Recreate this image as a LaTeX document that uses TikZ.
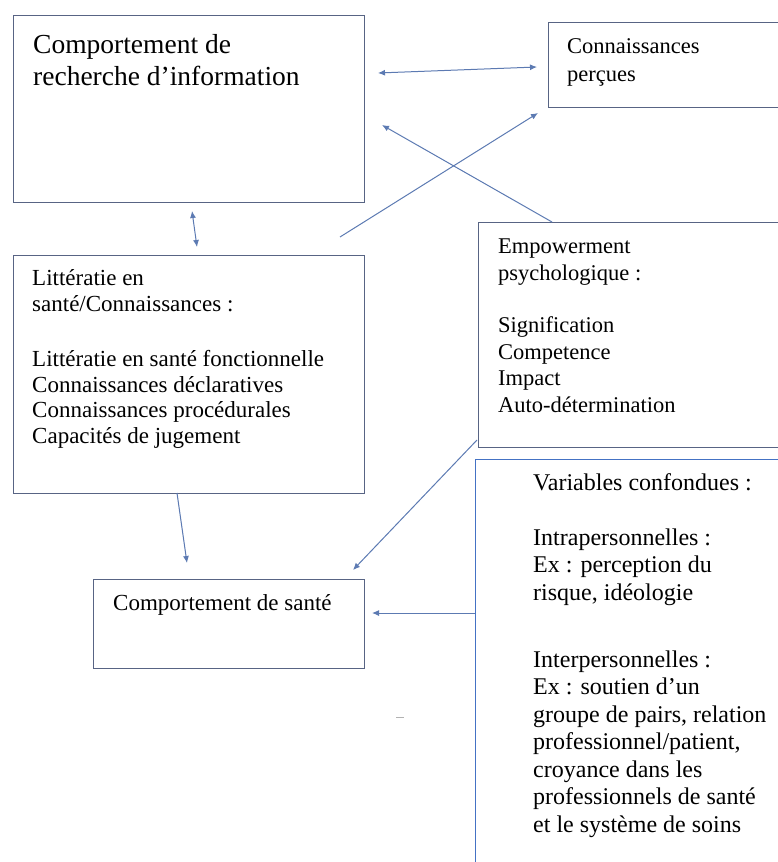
\documentclass[tikz,border=0pt]{standalone}
\usepackage{fontspec}
\setmainfont{Liberation Serif}
\usetikzlibrary{arrows.meta}
\definecolor{boxline}{RGB}{88,100,132}
\definecolor{arrowline}{RGB}{92,122,178}
\definecolor{confline}{RGB}{68,114,196}
\tikzstyle{box}=[rectangle, draw=boxline, line width=1.3pt, inner sep=0pt, anchor=north west]
\tikzstyle{txt}=[anchor=base west, align=left, inner sep=0pt]
\tikzstyle{fleche}=[draw=arrowline, line width=1pt, -{Latex[length=7pt,width=6pt]}]
\tikzstyle{double}=[draw=arrowline, line width=1pt, {Latex[length=7pt,width=6pt]}-{Latex[length=7pt,width=6pt]}]

\begin{document}
\begin{tikzpicture}[x=1pt,y=-1pt]
\clip (0,0) rectangle (778,862);
%boxes
\node[box, minimum width=351pt, minimum height=187pt] (rech) at (13,15){};
\node[box, minimum width=250pt, minimum height=85pt] (perc) at (548,22){};
\node[box, minimum width=351pt, minimum height=238pt] (litt) at (13,255){};
\node[box, minimum width=320pt, minimum height=225pt] (emp) at (478,222){};
\node[box, minimum width=271pt, minimum height=89pt] (sante) at (93,579){};
\node[box, draw=confline, line width=1.1pt, minimum width=320pt, minimum height=420pt] (conf) at (475,459){};
%texts (placed at the baseline of their last line)
\node[txt, font=\fontsize{27.5}{32}\selectfont] (trech) at (33,85){Comportement de\\recherche d'information};
\node[txt, font=\fontsize{22.5}{28}\selectfont] (tperc) at (567,81){Connaissances\\perçues};
\node[txt, font=\fontsize{23}{25.5}\selectfont] (tlitt) at (32,443){Littératie en\\santé/Connaissances :\\[30pt]
Littératie en santé fonctionnelle\\Connaissances déclaratives\\Connaissances procédurales\\Capacités de jugement};
\node[txt, font=\fontsize{22.5}{26.5}\selectfont] (temp) at (498,412){Empowerment\\psychologique :\\[26pt]
Signification\\Competence\\Impact\\Auto-détermination};
\node[txt, font=\fontsize{23}{27}\selectfont] (tsante) at (113,610){Comportement de santé};
\node[txt, font=\fontsize{24}{27.5}\selectfont] (tconf) at (533,832){Variables confondues :\\[27.5pt]
Intrapersonnelles :\\Ex : perception du\\risque, idéologie\\[39.5pt]
Interpersonnelles :\\Ex : soutien d’un\\groupe de pairs, relation\\professionnel/patient,\\croyance dans les\\professionnels de santé\\et le système de soins};
%arrow ends
\coordinate (r1) at (378,73);
\coordinate (p1) at (537,67);
\coordinate (r2) at (382,125);
\coordinate (e1) at (552,222);
\coordinate (l1) at (340,237);
\coordinate (p2) at (538,113);
\coordinate (r3) at (192,211);
\coordinate (l2) at (197,247);
\coordinate (l3) at (177,493);
\coordinate (s1) at (187,563);
\coordinate (e2) at (477,440);
\coordinate (s2) at (353,570);
\coordinate (c1) at (475,613);
\coordinate (s3) at (372,613);
%arrows
\draw[double] (r1) -- (p1);
\draw[fleche] (e1) -- (r2);
\draw[fleche] (l1) -- (p2);
\draw[double] (r3) -- (l2);
\draw[fleche] (l3) -- (s1);
\draw[fleche] (e2) -- (s2);
\draw[fleche] (c1) -- (s3);
%stray mark
\draw[gray!60, line width=1pt] (396,717) -- (404,717);
\end{tikzpicture}
\end{document}
